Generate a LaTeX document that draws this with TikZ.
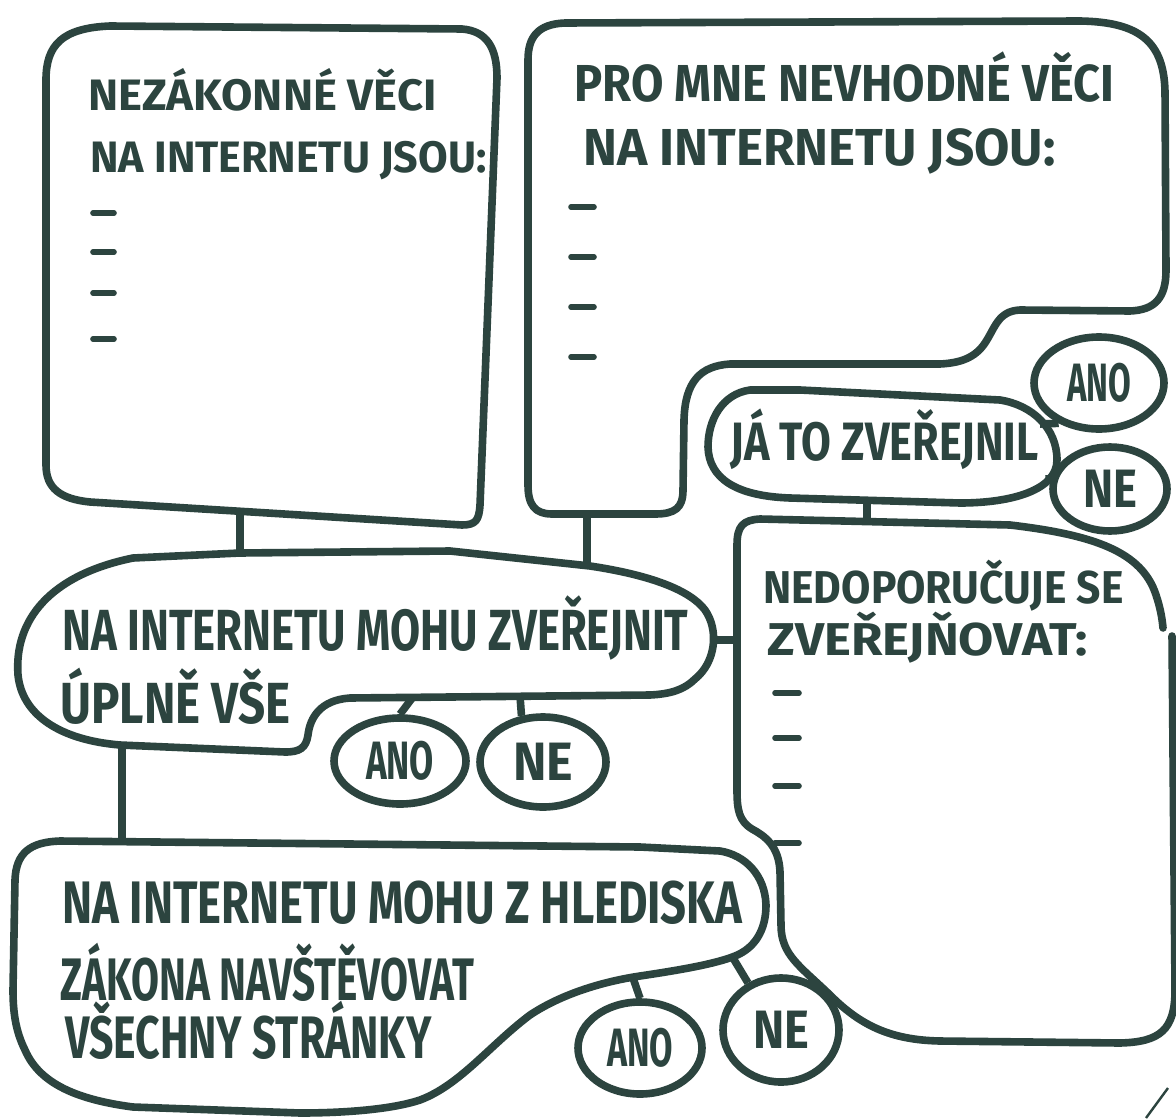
\documentclass[tikz,border=0pt]{standalone}
\usepackage{fontspec}
\setmainfont{Fira Sans}
\usepackage{graphicx}
\usetikzlibrary{shapes.geometric}
\definecolor{ink}{RGB}{44,68,63}
\newcommand\hw[2]{\resizebox{#1}{\height}{#2}}
\begin{document}
\begin{tikzpicture}[x=0.5pt,y=-0.5pt,
  outline/.style={draw=ink,line width=3.8pt,line cap=round,line join=round},
  link/.style={draw=ink,line width=3.8pt},
  dashmark/.style={draw=ink,line width=2.8pt,line cap=round},
  txt/.style={anchor=base west,inner sep=0pt,text=ink,font=\fontsize{#1}{#1}\selectfont\bfseries},
  bub/.style={ellipse,draw=ink,line width=3.8pt,inner sep=0pt,text=ink,font=\fontsize{27}{27}\selectfont\bfseries}]
\useasboundingbox[fill=white] (0,0) rectangle (1176,1118);

% ---------- Box 1 ----------
\draw[outline] (46,465) -- (46,80) .. controls (46,45) and (62,28) .. (110,26) -- (462,29)
  .. controls (487,31) and (497,48) .. (497,78) -- (480,505)
  .. controls (479,520) and (476,525) .. (462,525) -- (90,502)
  .. controls (60,499) and (46,488) .. (46,465) -- cycle;
\coordinate (b1bot) at (240,511);
\node[txt=22] (t1a) at (88,111) {\hw{174pt}{NEZÁKONNÉ VĚCI}};
\node[txt=22] (t1b) at (90,172) {\hw{198pt}{NA INTERNETU JSOU:}};
\foreach \yy in {213,252,293,339} \draw[dashmark] (93,\yy) -- (114,\yy);

% ---------- Box 2 ----------
\draw[outline] (528,485) -- (528,60) .. controls (528,38) and (537,24) .. (565,23) -- (1080,21)
  .. controls (1140,22) and (1164,42) .. (1165,92) -- (1166,270)
  .. controls (1166,298) and (1155,310) .. (1130,311) -- (1020,310)
  .. controls (998,311) and (995,328) .. (985,343) .. controls (975,358) and (960,363) .. (940,364)
  -- (730,364) .. controls (700,366) and (685,382) .. (684,420) -- (683,490)
  .. controls (683,508) and (675,514) .. (655,514) -- (552,514)
  .. controls (535,514) and (528,505) .. (528,485) -- cycle;
\coordinate (b2bot) at (587,514);
\node[txt=26] (t2a) at (574,102) {\hw{270pt}{PRO MNE NEVHODNÉ VĚCI}};
\node[txt=26] (t2b) at (583,166) {\hw{236pt}{NA INTERNETU JSOU:}};
\foreach \yy in {207,257,307,357} \draw[dashmark] (571,\yy) -- (594,\yy);

% ---------- JA TO ZVEREJNIL ----------
\draw[outline] (1000,400) -- (800,390) -- (750,390)
  .. controls (722,394) and (708,420) .. (708,447)
  .. controls (709,478) and (735,496) .. (790,498) -- (960,503)
  .. controls (1012,503) and (1057,490) .. (1057,460)
  .. controls (1057,428) and (1032,405) .. (1000,400) -- cycle;
\coordinate (jabot) at (867,500);
\coordinate (jaano) at (1040,424);
\coordinate (jane) at (1049,475);
\node[txt=27] (tja) at (730,460) {\hw{154pt}{JÁ TO ZVEŘEJNIL}};
\node[bub, minimum width=65pt, minimum height=46pt] (anot) at (1099,383) {\hw{32pt}{ANO}};
\node[bub, minimum width=57pt, minimum height=42pt] (net) at (1110,489) {\hw{27pt}{NE}};

% ---------- Box 3 ----------
\draw[outline] (737,790) -- (737,545) .. controls (737,526) and (743,520) .. (760,519) -- (1010,525)
  .. controls (1095,535) and (1142,552) .. (1156,595)
  .. controls (1160,607) and (1162,617) .. (1163,628)
  (1172,636) -- (1175,990) .. controls (1175,1030) and (1160,1042) .. (1120,1043)
  -- (940,1041) .. controls (890,1040) and (860,1025) .. (830,995)
  .. controls (800,966) and (781,955) .. (781,925) -- (780,872)
  .. controls (779,846) and (765,836) .. (752,829)
  .. controls (739,821) and (737,810) .. (737,790);
\coordinate (b3top) at (867,521);
\coordinate (b3left) at (737,640);
\node[txt=23] (t3a) at (763,603) {\hw{180pt}{NEDOPORUČUJE SE}};
\node[txt=23] (t3b) at (767,655) {\hw{160pt}{ZVEŘEJŇOVAT:}};
\foreach \yy in {693,738,786,843} \draw[dashmark] (775,\yy) -- (799,\yy);

% ---------- Bubble 1 ----------
\draw[outline] (133,558) -- (240,553) -- (450,551) -- (590,566)
  .. controls (650,575) and (690,590) .. (705,610)
  .. controls (719,630) and (716,662) .. (695,679)
  .. controls (684,690) and (670,694) .. (650,695) -- (350,698)
  .. controls (320,700) and (310,718) .. (308,735)
  .. controls (306,748) and (300,752) .. (285,752) -- (120,745)
  .. controls (60,740) and (22,715) .. (18,675)
  .. controls (14,620) and (50,575) .. (133,558) -- cycle;
\coordinate (b1top) at (240,553);
\coordinate (b1topr) at (587,566);
\coordinate (b1right) at (716,640);
\coordinate (b1ano) at (413,697);
\coordinate (b1ne) at (520,696);
\coordinate (b1bot2) at (122,746);
\node[txt=29] (t4a) at (62,650) {\hw{313pt}{NA INTERNETU MOHU ZVEŘEJNIT}};
\node[txt=29] (t4b) at (60,723) {\hw{115pt}{ÚPLNĚ VŠE}};
\node[bub, minimum width=66pt, minimum height=43pt] (anom) at (400,761) {\hw{34pt}{ANO}};
\node[bub, minimum width=63pt, minimum height=45pt] (nem) at (543,762) {\hw{30pt}{NE}};

% ---------- Bubble 2 ----------
\draw[outline] (13,990) -- (15,880) .. controls (16,853) and (30,842) .. (60,841) -- (640,847) -- (720,851)
  .. controls (745,855) and (765,875) .. (766,905)
  .. controls (766,930) and (755,948) .. (735,956)
  .. controls (715,964) and (680,970) .. (640,976)
  .. controls (600,982) and (560,995) .. (530,1015)
  .. controls (490,1045) and (460,1085) .. (420,1100)
  .. controls (390,1110) and (340,1113) .. (300,1113) -- (133,1107)
  .. controls (80,1100) and (40,1085) .. (25,1050)
  .. controls (15,1030) and (13,1010) .. (13,990) -- cycle;
\coordinate (b2top) at (122,842);
\coordinate (b2ano) at (633,978);
\coordinate (b2ne) at (733,958);
\node[txt=30] (t5a) at (62,923) {\hw{340pt}{NA INTERNETU MOHU Z HLEDISKA}};
\node[txt=30] (t5b) at (60,1000) {\hw{207pt}{ZÁKONA NAVŠTĚVOVAT}};
\node[txt=30] (t5c) at (65,1058) {\hw{183pt}{VŠECHNY STRÁNKY}};
\node[bub, minimum width=62pt, minimum height=46pt] (anob) at (640,1048) {\hw{33pt}{ANO}};
\node[bub, minimum width=58pt, minimum height=52pt] (neb) at (781,1030) {\hw{28pt}{NE}};

% ---------- connectors ----------
\draw[link] (b1bot) -- (b1top);
\draw[link] (b2bot) -- (b1topr);
\draw[link] (b1right) -- (b3left);
\draw[link] (b1ano) -- (anom.north);
\draw[link] (b1ne) -- (nem.115);
\draw[link] (b1bot2) -- (b2top);
\draw[link] (jabot) -- (b3top);
\draw[link] (jaano) -- (anot.225);
\draw[link] (jane) -- (net.175);
\draw[link] (b2ano) -- (anob.north);
\draw[link] (b2ne) -- (neb.125);

% stray pen stroke at the lower right edge
\coordinate (s1) at (1146,1118);
\coordinate (s2) at (1168,1088);
\draw[draw=ink,line width=1.2pt] (s1) -- (s2);
\end{tikzpicture}
\end{document}
